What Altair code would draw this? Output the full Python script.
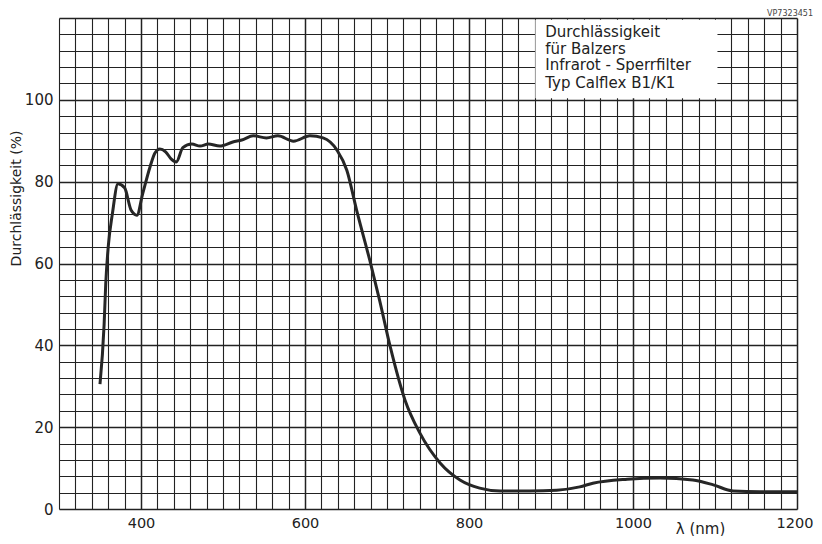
import altair as alt
import pandas as pd

# Transmission curve (wavelength nm, transmission %)
wavelength = [350, 355, 357, 360, 365, 372, 380, 388, 395, 402, 411, 417, 423, 430, 437, 443,
              451, 462, 472, 482, 496, 512, 523, 537, 553, 567, 586, 606, 622, 639, 651, 663,
              679, 691, 704, 722, 740, 765, 789, 813, 838, 874, 907, 935, 951, 993, 1033,
              1073, 1098, 1122, 1155, 1200]
transmission = [30.5, 45, 55, 64, 72, 79.5, 78.5, 73, 71.8, 77, 83.6, 87, 88, 87.3, 85.5, 84.8,
                88.3, 89.2, 88.7, 89.2, 88.7, 89.7, 90.2, 91.2, 90.7, 91.2, 89.9, 91.2, 90.7,
                87.7, 82.8, 73, 60.8, 51, 39.6, 26.6, 18.6, 11.2, 7.1, 5.1, 4.4, 4.4, 4.6, 5.4,
                6.3, 7.3, 7.6, 7.1, 5.9, 4.4, 4.2, 4.2]

legend_lines = ["Durchlässigkeit", "für Balzers", "Infrarot - Sperrfilter", "Typ Calflex  B1/K1"]
legend_y = [115.4, 111.3, 107.2, 102.9]

x_grid = list(range(300, 1201, 20))
y_grid = list(range(0, 121, 4))

FONT = "DejaVu Sans"
INK = "#222222"

curve = pd.DataFrame({"wl": wavelength, "t": transmission})
box = pd.DataFrame({"x": [881], "x2": [1103], "y": [100.4], "y2": [119.6]})
legend = pd.DataFrame({"x": [893] * 4, "y": legend_y, "text": legend_lines})

xscale = alt.Scale(domain=[300, 1200], nice=False, zero=False)
yscale = alt.Scale(domain=[0, 120], nice=False)

xaxis = alt.Axis(
    values=x_grid, tickCount=200, grid=True, ticks=False, domain=False,
    labelExpr="datum.value % 200 == 0 && datum.value > 300 ? datum.value : ''",
    gridColor=INK, gridOpacity=1,
    gridWidth={"expr": "datum.value % 200 == 0 ? 1.5 : 1.1"},
    labelFont=FONT, labelFontSize=14.5, labelColor=INK, labelPadding=7,
    labelOverlap=False, labelFlush=True, labelFlushOffset=16,
    title="λ (nm)", titleFont=FONT, titleFontSize=15, titleFontWeight="normal",
    titleColor=INK, titleX=641, titleY=19, titleAnchor="middle",
    titleAlign="center", titleBaseline="middle",
)
yaxis = alt.Axis(
    values=y_grid, tickCount=200, grid=True, ticks=False, domain=False,
    labelExpr="datum.value % 20 == 0 && datum.value <= 100 ? datum.value : ''",
    gridColor=INK, gridOpacity=1,
    gridWidth={"expr": "datum.value % 20 == 0 ? 1.5 : 1.1"},
    labelFont=FONT, labelFontSize=15, labelColor=INK, labelPadding=6,
    labelOverlap=False, labelFlush=False,
    title="Durchlässigkeit  (%)", titleFont=FONT, titleFontSize=14,
    titleFontWeight="normal", titleColor=INK, titleX=-43, titleY=180,
    titleAngle=270, titleAlign="center", titleBaseline="middle",
)

line = alt.Chart(curve).mark_line(
    color="#262626", strokeWidth=3, interpolate="monotone"
).encode(
    x=alt.X("wl:Q", scale=xscale, axis=xaxis),
    y=alt.Y("t:Q", scale=yscale, axis=yaxis),
)

rect = alt.Chart(box).mark_rect(color="white").encode(
    x=alt.X("x:Q", scale=xscale), x2="x2",
    y=alt.Y("y:Q", scale=yscale), y2="y2",
)

text = alt.Chart(legend).mark_text(
    align="left", baseline="alphabetic", font=FONT, fontSize=15, color=INK
).encode(
    x=alt.X("x:Q", scale=xscale),
    y=alt.Y("y:Q", scale=yscale),
    text="text:N",
)

stamp = alt.Chart(pd.DataFrame({"text": ["VP7323451"]})).mark_text(
    align="right", baseline="middle", font=FONT, fontSize=8, color="#444444"
).encode(x=alt.value(754), y=alt.value(-4), text="text:N")

chart = alt.layer(rect, line, text, stamp).properties(
    width=738, height=491,
    autosize=alt.AutoSizeParams(type="none"),
    padding={"left": 51, "top": 10, "right": 17, "bottom": 27},
).configure_view(
    stroke=INK, strokeWidth=2
).configure(background="white")

chart.save("out.html", embed_options={"renderer": "svg", "actions": False})
